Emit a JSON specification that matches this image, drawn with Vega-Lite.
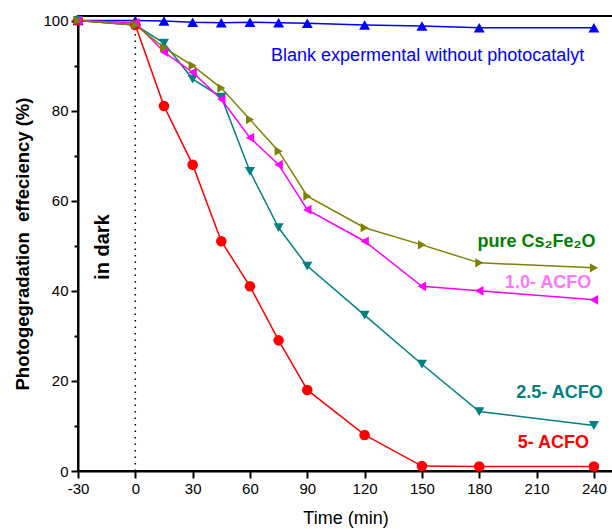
{
  "$schema": "https://vega.github.io/schema/vega-lite/v6.json",
  "width": 535,
  "height": 455,
  "autosize": "none",
  "padding": {"left": 78, "top": 16, "right": 0, "bottom": 58},
  "background": "white",
  "config": {
    "view": {"stroke": "black", "strokeWidth": 2},
    "font": "Liberation Sans",
    "axis": {
      "domainColor": "black",
      "domainWidth": 2,
      "tickColor": "black",
      "tickWidth": 2,
      "labelColor": "black",
      "titleColor": "black",
      "labelFont": "Liberation Sans",
      "titleFont": "Liberation Sans",
      "labelFontSize": 15,
      "grid": false
    }
  },
  "datasets": {
    "series": [
      {"series": "Blank", "time": -30, "value": 100},
      {"series": "Blank", "time": 0, "value": 100},
      {"series": "Blank", "time": 15, "value": 99.9},
      {"series": "Blank", "time": 30, "value": 99.6},
      {"series": "Blank", "time": 45, "value": 99.5},
      {"series": "Blank", "time": 60, "value": 99.6},
      {"series": "Blank", "time": 75, "value": 99.5},
      {"series": "Blank", "time": 90, "value": 99.4},
      {"series": "Blank", "time": 120, "value": 99.0},
      {"series": "Blank", "time": 150, "value": 98.8},
      {"series": "Blank", "time": 180, "value": 98.4},
      {"series": "Blank", "time": 240, "value": 98.4},
      {"series": "5- ACFO", "time": -30, "value": 100},
      {"series": "5- ACFO", "time": 0, "value": 99},
      {"series": "5- ACFO", "time": 15, "value": 81},
      {"series": "5- ACFO", "time": 30, "value": 68},
      {"series": "5- ACFO", "time": 45, "value": 51},
      {"series": "5- ACFO", "time": 60, "value": 41},
      {"series": "5- ACFO", "time": 75, "value": 29},
      {"series": "5- ACFO", "time": 90, "value": 18},
      {"series": "5- ACFO", "time": 120, "value": 8},
      {"series": "5- ACFO", "time": 150, "value": 1.1},
      {"series": "5- ACFO", "time": 180, "value": 1},
      {"series": "5- ACFO", "time": 240, "value": 1},
      {"series": "2.5- ACFO", "time": -30, "value": 100},
      {"series": "2.5- ACFO", "time": 0, "value": 99},
      {"series": "2.5- ACFO", "time": 15, "value": 95},
      {"series": "2.5- ACFO", "time": 30, "value": 87},
      {"series": "2.5- ACFO", "time": 45, "value": 83},
      {"series": "2.5- ACFO", "time": 60, "value": 66.5},
      {"series": "2.5- ACFO", "time": 75, "value": 54},
      {"series": "2.5- ACFO", "time": 90, "value": 45.5},
      {"series": "2.5- ACFO", "time": 120, "value": 34.6},
      {"series": "2.5- ACFO", "time": 150, "value": 23.7},
      {"series": "2.5- ACFO", "time": 180, "value": 13.2},
      {"series": "2.5- ACFO", "time": 240, "value": 10.1},
      {"series": "1.0- ACFO", "time": -30, "value": 100},
      {"series": "1.0- ACFO", "time": 0, "value": 99.5},
      {"series": "1.0- ACFO", "time": 15, "value": 93},
      {"series": "1.0- ACFO", "time": 30, "value": 88.5},
      {"series": "1.0- ACFO", "time": 45, "value": 82.5},
      {"series": "1.0- ACFO", "time": 60, "value": 74},
      {"series": "1.0- ACFO", "time": 75, "value": 68},
      {"series": "1.0- ACFO", "time": 90, "value": 58},
      {"series": "1.0- ACFO", "time": 120, "value": 51},
      {"series": "1.0- ACFO", "time": 150, "value": 41},
      {"series": "1.0- ACFO", "time": 180, "value": 40},
      {"series": "1.0- ACFO", "time": 240, "value": 38},
      {"series": "pure", "time": -30, "value": 100},
      {"series": "pure", "time": 0, "value": 99},
      {"series": "pure", "time": 15, "value": 94},
      {"series": "pure", "time": 30, "value": 90},
      {"series": "pure", "time": 45, "value": 85},
      {"series": "pure", "time": 60, "value": 78},
      {"series": "pure", "time": 75, "value": 71},
      {"series": "pure", "time": 90, "value": 61},
      {"series": "pure", "time": 120, "value": 54},
      {"series": "pure", "time": 150, "value": 50.2},
      {"series": "pure", "time": 180, "value": 46.2},
      {"series": "pure", "time": 240, "value": 45.1}
    ]
  },
  "layer": [
    {
      "data": {"values": [{}]},
      "mark": {"type": "rule", "color": "black", "strokeWidth": 1.5, "strokeDash": [1.5, 5]},
      "encoding": {
        "x": {"datum": 0, "type": "quantitative", "scale": {"domain": [-30, 250], "nice": false, "zero": false}},
        "y": {"datum": 0, "type": "quantitative", "scale": {"domain": [0, 101], "nice": false, "zero": false}},
        "y2": {"datum": 99}
      }
    },
    {
      "data": {"name": "series"},
      "mark": {"type": "line", "strokeWidth": 1.5},
      "encoding": {
        "x": {
          "field": "time", "type": "quantitative",
          "scale": {"domain": [-30, 250], "nice": false, "zero": false},
          "axis": {
            "title": "Time (min)",
            "titleFontSize": 18,
            "titleFontWeight": "normal",
            "titlePadding": 13,
            "values": [-30, -15, 0, 15, 30, 45, 60, 75, 90, 105, 120, 135, 150, 165, 180, 195, 210, 225, 240],
            "labelExpr": "datum.value % 30 === 0 ? '' + datum.value : ''",
            "tickSize": {"condition": {"test": "datum.value % 30 === 0", "value": 7}, "value": 4},
            "labelPadding": 3,
            "labelFlush": false
          }
        },
        "y": {
          "field": "value", "type": "quantitative",
          "scale": {"domain": [0, 101], "nice": false, "zero": false},
          "axis": {
            "title": "Photogegradation\u00a0 effeciency (%)",
            "titleFontSize": 18.5,
            "titleFontWeight": "bold",
            "titlePadding": 10,
            "values": [0, 10, 20, 30, 40, 50, 60, 70, 80, 90, 100],
            "labelExpr": "datum.value % 20 === 0 ? datum.label : ''",
            "tickSize": {"condition": {"test": "datum.value % 20 === 0", "value": 7}, "value": 4},
            "labelPadding": 3,
            "labelFlush": false
          }
        },
        "color": {
          "field": "series", "type": "nominal", "legend": null,
          "scale": {"domain": ["Blank", "5- ACFO", "2.5- ACFO", "1.0- ACFO", "pure"], "range": ["#0000FF", "#FF0000", "#008080", "#FF00FF", "#808000"]}
        }
      }
    },
    {
      "data": {"name": "series"},
      "mark": {"type": "point", "filled": true, "opacity": 1},
      "encoding": {
        "x": {"field": "time", "type": "quantitative"},
        "y": {"field": "value", "type": "quantitative"},
        "color": {"field": "series", "type": "nominal", "legend": null},
        "shape": {
          "field": "series", "type": "nominal", "legend": null,
          "scale": {"domain": ["Blank", "5- ACFO", "2.5- ACFO", "1.0- ACFO", "pure"], "range": ["triangle-up", "circle", "triangle-down", "triangle-left", "triangle-right"]}
        },
        "size": {
          "field": "series", "type": "nominal", "legend": null,
          "scale": {"domain": ["Blank", "5- ACFO", "2.5- ACFO", "1.0- ACFO", "pure"], "range": [120, 85, 120, 120, 120]}
        }
      }
    },
    {
      "data": {"values": [{}]},
      "mark": {"type": "text", "text": "Blank expermental without photocatalyt", "color": "#0000FF", "fontSize": 18, "align": "center", "baseline": "middle"},
      "encoding": {"x": {"datum": 153}, "y": {"datum": 92.1}}
    },
    {
      "data": {"values": [{}]},
      "mark": {"type": "text", "text": "pure Cs\u2082Fe\u2082O", "color": "#008000", "fontSize": 18, "fontWeight": "bold", "align": "center", "baseline": "middle"},
      "encoding": {"x": {"datum": 210}, "y": {"datum": 50.8}}
    },
    {
      "data": {"values": [{}]},
      "mark": {"type": "text", "text": "1.0- ACFO", "color": "#FF77FF", "fontSize": 18, "fontWeight": "bold", "align": "center", "baseline": "middle"},
      "encoding": {"x": {"datum": 216}, "y": {"datum": 41.7}}
    },
    {
      "data": {"values": [{}]},
      "mark": {"type": "text", "text": "2.5- ACFO", "color": "#008080", "fontSize": 18, "fontWeight": "bold", "align": "center", "baseline": "middle"},
      "encoding": {"x": {"datum": 222}, "y": {"datum": 17.3}}
    },
    {
      "data": {"values": [{}]},
      "mark": {"type": "text", "text": "5- ACFO", "color": "#FF0000", "fontSize": 18, "fontWeight": "bold", "align": "center", "baseline": "middle"},
      "encoding": {"x": {"datum": 218.8}, "y": {"datum": 6.2}}
    },
    {
      "data": {"values": [{}]},
      "mark": {"type": "text", "text": "in dark", "color": "black", "fontSize": 20, "fontWeight": "bold", "align": "center", "baseline": "middle", "angle": 270},
      "encoding": {"x": {"datum": -16.9}, "y": {"datum": 49.7}}
    }
  ]
}
